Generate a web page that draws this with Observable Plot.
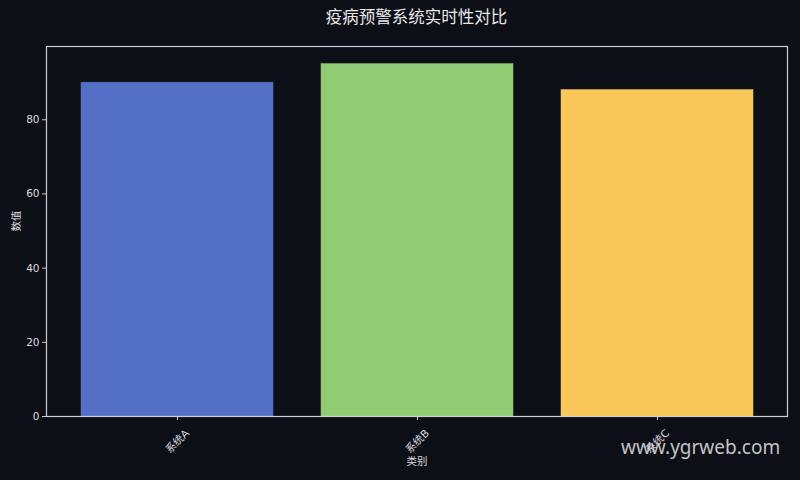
<!DOCTYPE html>
<html>
<head>
<meta charset="utf-8">
<script src="https://cdn.jsdelivr.net/npm/d3@7"></script>
<script src="https://cdn.jsdelivr.net/npm/@observablehq/plot@0.6"></script>
<style>
  html, body { margin: 0; padding: 0; background: #0c0f16; }
  body { width: 800px; height: 480px; overflow: hidden; position: relative;
         font-family: "DejaVu Sans", "Noto Sans CJK SC", sans-serif; }
  #title { height: 36px; line-height: 36px; box-sizing: border-box; padding-left: 46px; width: 787px;
           text-align: center; color: #e8e8e8; font-size: 16.5px; }
  #wm { position: absolute; left: 621px; top: 434px; color: #d8d8d8; font-size: 19px;
        font-family: "Noto Sans", "Open Sans", sans-serif; opacity: 0.9; }
  svg text { font-family: "DejaVu Sans", "Noto Sans CJK SC", sans-serif; }
</style>
</head>
<body>
<div id="title">疫病预警系统实时性对比</div>
<div id="chart"></div>
<div id="wm">www.ygrweb.com</div>
<script>
const categories = ["系统A", "系统B", "系统C"];
const values = [90, 95, 88];
const colors = ["#5470c6", "#91cc75", "#fac858"];
const yTicks = [0, 20, 40, 60, 80];

const data = categories.map((c, i) => ({category: c, value: values[i], color: colors[i]}));

const fg = "#dddddd";
const chart = Plot.plot({
  width: 800,
  height: 444,
  marginLeft: 46,
  marginRight: 13,
  marginTop: 10,
  marginBottom: 64,
  style: {background: "#0c0f16", color: fg, fontSize: "10.5px"},
  x: {domain: categories, paddingInner: 0.2, paddingOuter: 0.14, label: null},
  y: {domain: [0, 99.75], label: null},
  marks: [
    Plot.barY(data, {x: "category", y: "value", fill: "color", stroke: "color", strokeWidth: 0.5}),
    Plot.frame({stroke: "#cfcfcf", strokeWidth: 1.2}),
    Plot.axisY({ticks: yTicks, tickSize: 4, tickPadding: 3, label: null, stroke: "#cfcfcf", fill: fg, fontSize: 10.5}),
    Plot.axisX({tickSize: 4, tickFormat: () => "", label: null, stroke: "#cfcfcf"}),
    Plot.text(categories, {x: d => d, frameAnchor: "bottom", dy: 25, rotate: -45, textAnchor: "middle", lineAnchor: "middle", fill: fg, fontSize: 10.5}),
    Plot.text(["类别"], {frameAnchor: "bottom", dy: 45, fill: fg, fontSize: 10.5, lineAnchor: "middle"}),
    Plot.text(["数值"], {frameAnchor: "left", dx: -30, rotate: -90, fill: fg, fontSize: 10.5, lineAnchor: "middle"})
  ]
});
document.getElementById("chart").appendChild(chart);
</script>
</body>
</html>
